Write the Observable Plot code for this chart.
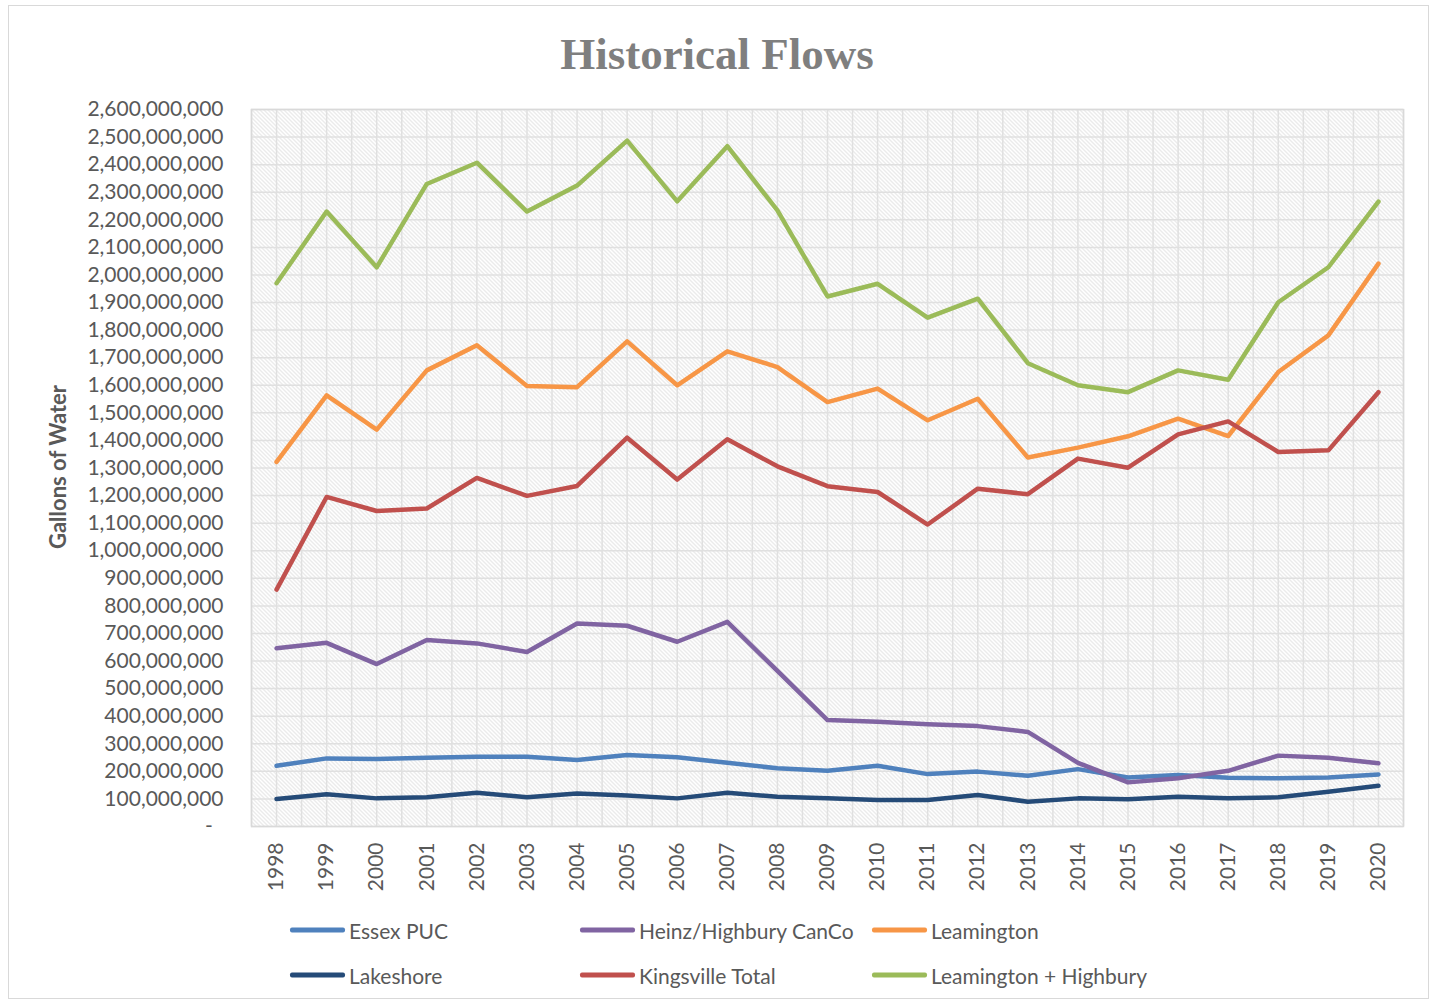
<!DOCTYPE html>
<html>
<head>
<meta charset="utf-8">
<script src="https://cdn.jsdelivr.net/npm/d3@7"></script>
<script src="https://cdn.jsdelivr.net/npm/@observablehq/plot@0.6"></script>
<style>
  html, body { margin: 0; padding: 0; background: #fff; }
  #wrap { position: relative; width: 1434px; height: 1004px; overflow: hidden; font-family: Lato, "Open Sans", sans-serif; }
  #border { position: absolute; left: 8px; top: 5px; width: 1421px; height: 994px; border: 1.5px solid #d9d9d9; box-sizing: border-box; }
  #title { position: absolute; left: 0; top: 32px; width: 1434px; text-align: center; font: bold 45px "Liberation Serif", serif; color: #7f7f7f; line-height: 1; }
  #ylabel { position: absolute; left: 57px; top: 467px; transform: translate(-50%, -50%) rotate(-90deg); font-weight: bold; font-size: 22px; color: #595959; white-space: nowrap; }
  #chart { position: absolute; left: 0; top: 90px; }
  .lg { position: absolute; display: flex; align-items: center; font-size: 21px; color: #595959; white-space: nowrap; transform: translateY(-50%); }
  .sw { display: inline-block; width: 55px; height: 4.5px; border-radius: 2px; margin-right: 4px; }
</style>
</head>
<body>
<div id="wrap">
  <div id="border"></div>
  <div id="title">Historical Flows</div>
  <div id="ylabel">Gallons of Water</div>
  <div id="chart"></div>
</div>
<script>
// Data (millions of gallons)
const years = [1998,1999,2000,2001,2002,2003,2004,2005,2006,2007,2008,2009,2010,2011,2012,2013,2014,2015,2016,2017,2018,2019,2020];
const essexPUC = [220,247,245,249,253,253,241,259,251,231,211,202,220,190,199,184,208,178,187,177,175,178,189];
const heinzHighbury = [646,666,589,676,664,633,736,728,670,742,564,386,380,371,364,343,231,160,175,202,257,249,229];
const leamington = [1322,1563,1439,1654,1745,1597,1593,1759,1600,1723,1666,1539,1588,1473,1551,1338,1374,1415,1479,1416,1648,1781,2041];
const lakeshore = [100,117,102,106,122,106,120,112,102,122,108,102,96,96,114,90,102,99,108,102,106,126,148];
const kingsville = [859,1195,1144,1153,1264,1199,1235,1410,1258,1404,1306,1234,1213,1095,1225,1205,1334,1301,1422,1469,1358,1364,1575];
const leamingtonHighbury = [1970,2230,2028,2330,2407,2230,2324,2487,2267,2467,2234,1922,1968,1845,1914,1680,1600,1575,1654,1620,1901,2028,2266];

const seriesNames = ["Essex PUC","Heinz/Highbury CanCo","Leamington","Lakeshore","Kingsville Total","Leamington + Highbury"];
const seriesColors = ["#4F81BD","#8064A2","#F79646","#254B78","#C0504D","#9BBB59"];
const seriesValues = [essexPUC, heinzHighbury, leamington, lakeshore, kingsville, leamingtonHighbury];
const yTicks = [0,1e8,2e8,3e8,4e8,5e8,6e8,7e8,8e8,9e8,1e9,1.1e9,1.2e9,1.3e9,1.4e9,1.5e9,1.6e9,1.7e9,1.8e9,1.9e9,2e9,2.1e9,2.2e9,2.3e9,2.4e9,2.5e9,2.6e9];
const UNIT = 1e6;

const table = seriesNames.flatMap((name, k) => years.map((yr, i) => ({series: name, year: yr, value: seriesValues[k][i] * UNIT})));
const xGrid = years.flatMap(y => [y - 0.5, y]).concat([years[years.length - 1] + 0.5]);
const fmt = d3.format(",");

const chart = Plot.plot({
  width: 1434, height: 820,
  marginLeft: 251, marginRight: 31, marginTop: 19, marginBottom: 84,
  style: {fontFamily: "Lato, 'Open Sans', sans-serif", fontSize: "21px", color: "#595959", background: "transparent", overflow: "visible"},
  x: {type: "linear", domain: [1997.5, 2020.5]},
  y: {domain: [0, 2.6e9]},
  color: {domain: seriesNames, range: seriesColors},
  marks: [
    Plot.frame({fill: "url(#hatch)", stroke: null}),
    Plot.gridX(xGrid, {stroke: "#e0e0e0", strokeOpacity: 1, strokeWidth: 1.5}),
    Plot.gridY(yTicks, {stroke: "#e0e0e0", strokeOpacity: 1, strokeWidth: 1.5}),
    Plot.frame({stroke: "#d9d9d9", strokeWidth: 1.5}),
    Plot.axisY(yTicks, {tickSize: 0, tickPadding: 28, label: null, fill: "#595959", fontSize: 21,
      tickFormat: d => d === 0 ? "-\u00a0\u00a0" : fmt(d)}),
    Plot.axisX(years, {tickSize: 0, tickPadding: 16, tickRotate: -90, label: null, fill: "#595959", fontSize: 21,
      tickFormat: d => String(d)}),
    Plot.line(table, {x: "year", y: "value", z: "series", stroke: "series", strokeWidth: 4.5,
      strokeLinejoin: "round", strokeLinecap: "round"})
  ]
});

const defs = d3.select(chart).insert("defs", ":first-child");
const pat = defs.append("pattern").attr("id", "hatch").attr("patternUnits", "userSpaceOnUse")
  .attr("width", 4).attr("height", 4);
pat.append("rect").attr("width", 4).attr("height", 4).attr("fill", "#ffffff");
pat.append("path").attr("d", "M0,0L4,4M-1,3L1,5M3,-1L5,1").attr("stroke", "#d6d6d6").attr("stroke-width", 1);

document.getElementById("chart").appendChild(chart);

// Legend
const wrap = document.getElementById("wrap");
const legendCols = [290, 580, 872];
const legendRows = [930, 975];
seriesNames.forEach((name, i) => {
  const el = document.createElement("div");
  el.className = "lg";
  el.style.left = legendCols[i % 3] + "px";
  el.style.top = legendRows[Math.floor(i / 3)] + "px";
  const sw = document.createElement("span");
  sw.className = "sw";
  sw.style.background = seriesColors[i];
  el.appendChild(sw);
  el.appendChild(document.createTextNode(name));
  wrap.appendChild(el);
});
</script>
</body>
</html>
